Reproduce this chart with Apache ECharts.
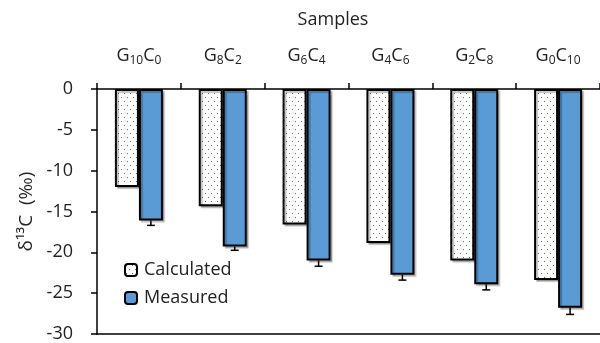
<!DOCTYPE html>
<html>
<head>
<meta charset="utf-8">
<script src="https://cdn.jsdelivr.net/npm/echarts@6/dist/echarts.min.js"></script>
<style>
html,body{margin:0;padding:0;background:#fff;}
#c{width:600px;height:343px;}
</style>
</head>
<body>
<div id="c"></div>
<script>
const categories = ['G10C0', 'G8C2', 'G6C4', 'G4C6', 'G2C8', 'G0C10'];
const calculated = [-12.0, -14.35, -16.6, -18.85, -21.0, -23.4];
const measured = [-16.1, -19.3, -21.0, -22.75, -23.9, -26.8];
const measuredErr = [0.6, 0.45, 0.7, 0.65, 0.7, 0.8];
const yTicks = [0, -5, -10, -15, -20, -25, -30];

const FONT = '"Open Sans", "Noto Sans", sans-serif';

// dotted fill pattern
const pat = document.createElement('canvas');
pat.width = 6; pat.height = 8;
const pc = pat.getContext('2d');
pc.fillStyle = '#fff'; pc.fillRect(0, 0, 6, 8);
pc.fillStyle = '#6a6a6a';
pc.fillRect(1, 1, 1, 1);
pc.fillRect(4, 5, 1, 1);

const chart = echarts.init(document.getElementById('c'), null, {renderer: 'canvas'});

const errData = measured.map((v, i) => [i, v, measuredErr[i]]);

chart.setOption({
  backgroundColor: '#fff',
  animation: false,
  textStyle: {fontFamily: FONT},
  graphic: [{
    type: 'text', x: 333, y: 20,
    style: {text: 'Samples', fontSize: 18, fontFamily: FONT, fill: '#222', textAlign: 'center', textVerticalAlign: 'middle'}
  }],
  grid: {left: 97, top: 89, width: 504, height: 245, containLabel: false},
  legend: {
    orient: 'vertical', left: 119, top: 256, itemWidth: 12, itemHeight: 12, itemGap: 10,
    data: ['Calculated', 'Measured'],
    textStyle: {fontSize: 18, color: '#222', fontFamily: FONT, padding: [0, 0, 0, 2]},
    itemStyle: {borderColor: '#000', borderWidth: 2}
  },
  xAxis: [{
    type: 'category', position: 'top', data: categories,
    axisLine: {show: true, onZero: false, lineStyle: {color: '#000', width: 1.5}},
    axisTick: {show: true, length: 6, lineStyle: {color: '#000', width: 1.5}},
    axisLabel: {
      interval: 0, margin: 22, color: '#222',
      formatter: function (s) {
        const m = s.match(/^G(\d+)C(\d+)$/);
        return '{n|G}{s|' + m[1] + '}{n|C}{s|' + m[2] + '}';
      },
      rich: {
        n: {fontSize: 18, fontFamily: FONT, color: '#222', lineHeight: 22},
        s: {fontSize: 12, fontFamily: FONT, color: '#222', lineHeight: 12, verticalAlign: 'bottom'}
      }
    }
  }, {
    type: 'category', position: 'bottom', data: categories,
    axisLine: {show: true, onZero: false, lineStyle: {color: '#000', width: 1.5}},
    axisTick: {show: false}, axisLabel: {show: false}
  }],
  yAxis: {
    type: 'value', min: -30, max: 0, interval: 5,
    axisLine: {show: true, lineStyle: {color: '#000', width: 1.5}},
    axisTick: {show: true, length: 6, lineStyle: {color: '#000', width: 1.5}},
    splitLine: {show: false},
    axisLabel: {fontSize: 18, color: '#222', margin: 24, fontFamily: FONT,
      formatter: v => yTicks.includes(v) ? String(v) : ''},
    name: 'δ¹³C  (‰)',
    nameLocation: 'middle', nameGap: 60,
    nameTextStyle: {fontSize: 19, fontFamily: FONT, color: '#222'}
  },
  series: [{
    name: 'Calculated', type: 'bar', data: calculated,
    barWidth: 24, barGap: '0%',
    itemStyle: {color: {image: pat, repeat: 'repeat'}, borderColor: '#000', borderWidth: 2,
      shadowColor: 'rgba(0,0,0,0.25)', shadowOffsetX: 2, shadowOffsetY: 2, shadowBlur: 1}
  }, {
    name: 'Measured', type: 'bar', data: measured,
    barWidth: 24,
    itemStyle: {color: '#5B9BD5', borderColor: '#000', borderWidth: 2,
      shadowColor: 'rgba(0,0,0,0.25)', shadowOffsetX: 2, shadowOffsetY: 2, shadowBlur: 1}
  }, {
    name: 'err', type: 'custom', data: errData, z: 5,
    encode: {x: 0, y: 1},
    renderItem: function (params, api) {
      const p = api.coord([api.value(0), api.value(1)]);
      const q = api.coord([api.value(0), api.value(1) - api.value(2)]);
      const x = p[0] + 12;
      return {
        type: 'group',
        children: [
          {type: 'line', shape: {x1: x, y1: p[1], x2: x, y2: q[1]}, style: {stroke: '#000', lineWidth: 1.5}},
          {type: 'line', shape: {x1: x - 4, y1: q[1], x2: x + 4, y2: q[1]}, style: {stroke: '#000', lineWidth: 1.5}}
        ]
      };
    }
  }]
});
</script>
</body>
</html>
